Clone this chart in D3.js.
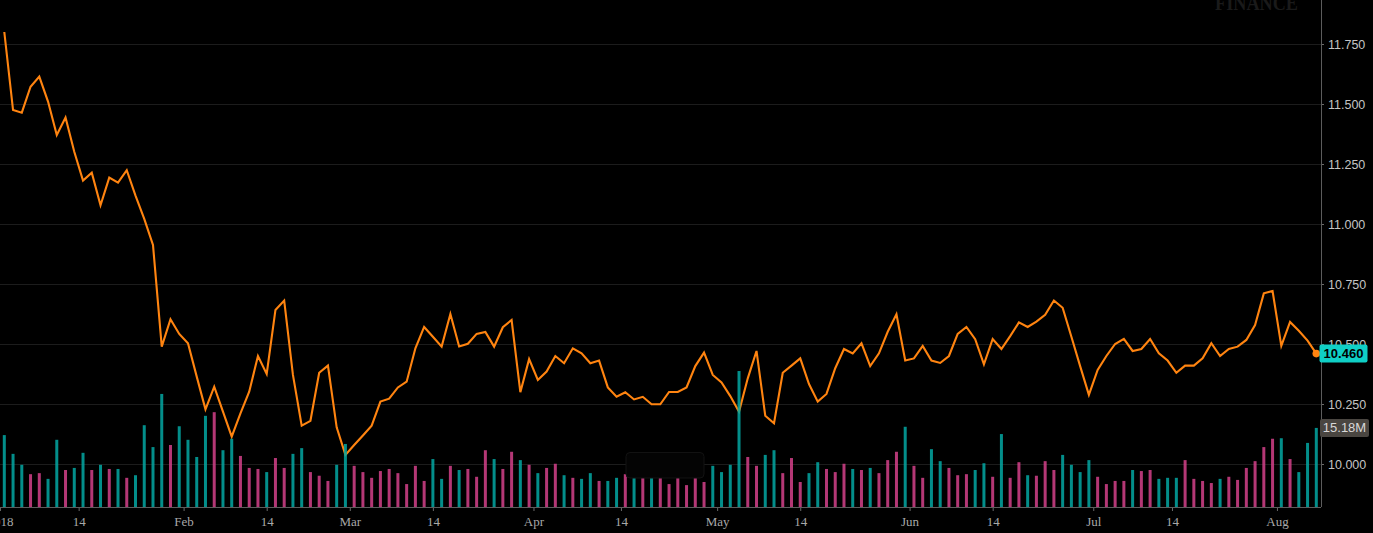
<!DOCTYPE html>
<html>
<head>
<meta charset="utf-8">
<script src="https://cdn.jsdelivr.net/npm/d3@7"></script>
<style>
  html, body { margin: 0; padding: 0; background: #000; overflow: hidden; }
  #chart svg { display: block; }
</style>
</head>
<body>
<div id="chart"></div>
<script>
// Daily closes, one per trading day (Jan 2 2018 .. Aug 7 2018)
const closes = [
  11.80, 11.475, 11.464, 11.572, 11.614, 11.51, 11.371, 11.444, 11.301, 11.181,
  11.214, 11.078, 11.193, 11.172, 11.224, 11.118, 11.021, 10.913, 10.489, 10.603,
  10.542, 10.503, 10.364, 10.228, 10.322, 10.218, 10.114, 10.211, 10.301, 10.45,
  10.375, 10.642, 10.681, 10.371, 10.16, 10.18, 10.38, 10.41, 10.153, 10.038,
  10.079, 10.119, 10.16, 10.26, 10.272, 10.319, 10.343, 10.482, 10.571, 10.53,
  10.489, 10.625, 10.49, 10.501, 10.542, 10.55, 10.489, 10.57, 10.60, 10.299,
  10.437, 10.35, 10.385, 10.45, 10.42, 10.482, 10.461, 10.42, 10.431, 10.319,
  10.28, 10.299, 10.269, 10.28, 10.249, 10.249, 10.30, 10.30, 10.319, 10.408,
  10.464, 10.371, 10.34, 10.283, 10.218, 10.357, 10.471, 10.201, 10.17, 10.38,
  10.41, 10.44, 10.333, 10.26, 10.292, 10.399, 10.479, 10.461, 10.503, 10.408,
  10.461, 10.551, 10.624, 10.431, 10.44, 10.492, 10.431, 10.421, 10.45, 10.542,
  10.571, 10.52, 10.415, 10.521, 10.479, 10.533, 10.59, 10.571, 10.593, 10.622,
  10.681, 10.651, 10.53, 10.408, 10.288, 10.392, 10.45, 10.50, 10.521, 10.471,
  10.479, 10.521, 10.461, 10.431, 10.38, 10.41, 10.41, 10.44, 10.503, 10.45,
  10.479, 10.489, 10.517, 10.579, 10.711, 10.721, 10.492, 10.592, 10.555, 10.514,
  10.46
];

// Volume in millions
const volumes = [
  13.8, 10.2, 8.1, 6.3, 6.5, 5.4, 12.9, 7.1, 7.5, 10.4,
  7.1, 8.1, 7.3, 7.3, 5.6, 6.1, 15.7, 11.5, 21.7, 11.9,
  15.5, 12.9, 9.6, 17.5, 18.2, 10.9, 13.1, 9.8, 7.5, 7.3,
  6.7, 9.4, 7.5, 10.2, 11.3, 6.7, 6.0, 5.0, 8.1, 12.1,
  7.9, 6.7, 5.6, 6.9, 7.3, 6.5, 4.4, 7.9, 5.0, 9.2,
  5.4, 7.9, 7.1, 7.3, 5.8, 10.9, 9.2, 7.3, 10.6, 9.0,
  8.1, 6.5, 7.5, 8.3, 6.1, 5.6, 5.4, 6.5, 5.0, 5.0,
  5.6, 6.3, 6.6, 6.0, 6.2, 6.4, 4.4, 5.9, 4.2, 6.0,
  4.8, 7.9, 6.7, 8.1, 26.1, 9.6, 7.9, 10.0, 10.9, 6.5,
  9.4, 4.8, 6.5, 8.6, 7.3, 6.7, 8.3, 7.3, 7.1, 7.5,
  6.5, 9.0, 10.6, 15.4, 7.9, 5.6, 11.1, 8.8, 7.5, 6.1,
  6.3, 7.1, 8.4, 5.8, 14.0, 5.6, 8.6, 6.1, 6.0, 8.8,
  7.1, 10.0, 8.1, 6.7, 9.0, 5.8, 4.4, 5.0, 5.0, 7.1,
  6.9, 7.1, 5.4, 5.6, 5.6, 9.0, 5.4, 5.0, 4.6, 5.4,
  5.8, 5.2, 7.5, 8.8, 11.5, 13.1, 13.2, 9.2, 6.7, 12.3,
  15.18
];

// 1 = up day (teal bar), 0 = down day (pink bar)
const upDays = [
  1,1,1,0,0,1,1,0,1,1, 0,1,0,1,0,1,1,1,1,0,
  1,1,1,1,0,1,1,0,0,0, 1,0,0,1,1,0,0,0,1,1,
  0,0,0,0,0,0,0,0,0,1, 1,0,1,0,0,0,1,0,0,1,
  0,1,0,0,1,0,1,1,0,1, 1,0,1,0,1,0,0,0,0,0,
  0,1,1,1,1,0,0,1,1,0, 0,0,1,1,0,0,0,1,0,1,
  0,0,0,1,0,0,1,1,0,0, 0,1,1,0,1,0,0,1,0,0,
  0,1,1,1,1,0,0,0,0,1, 0,0,1,1,1,0,0,0,0,1,
  0,0,0,0,0,0,1,0,1,1, 1
];

// x-axis ticks, in trading-day index units
const xTickIdx = [-0.5, 8.5, 20.5, 30, 39.5, 49, 60.5, 70.5, 81.5, 91, 103.5, 113, 124.5, 133.5, 145.5];
const xTickLabels = ["2018", "14", "Feb", "14", "Mar", "14", "Apr", "14", "May", "14", "Jun", "14", "Jul", "14", "Aug"];

// right axis ticks
const yTicks = [10.0, 10.25, 10.5, 10.75, 11.0, 11.25, 11.5, 11.75];

class PriceChart {
  constructor(_config) {
    this.config = {
      parentElement: _config.parentElement,
      containerWidth: _config.containerWidth,
      containerHeight: _config.containerHeight,
      axisX: 1321,
      baseY: 507,
    };
    this.data = closes.map((c, i) => ({ i: i, close: c, vol: volumes[i], up: upDays[i] === 1 }));
    this.initVis();
  }

  initVis() {
    let vis = this;

    vis.svg = d3.select(vis.config.parentElement)
      .append("svg")
      .attr("width", vis.config.containerWidth)
      .attr("height", vis.config.containerHeight)
      .style("background", "#000");

    // Scales
    vis.xScale = d3.scaleLinear().domain([0, closes.length - 1]).range([4.3, 1316.3]);
    vis.yScale = d3.scaleLinear().domain([10, 11.75]).range([464, 44]);
    vis.volScale = d3.scaleLinear().domain([0, 30]).range([vis.config.baseY, vis.config.baseY - 156.3]);

    // Watermark
    vis.svg.append("text")
      .attr("x", 1215)
      .attr("y", 10)
      .attr("textLength", 83)
      .attr("lengthAdjust", "spacingAndGlyphs")
      .style("font-family", "'Liberation Serif', serif")
      .style("font-weight", "bold")
      .style("font-size", "21px")
      .style("fill", "#1a1a1a")
      .text("FINANCE");

    // Gridlines
    vis.svg.append("g")
      .selectAll("line")
      .data(yTicks)
      .join("line")
      .attr("x1", 0)
      .attr("x2", vis.config.axisX)
      .attr("y1", d => Math.round(vis.yScale(d)) + 0.5)
      .attr("y2", d => Math.round(vis.yScale(d)) + 0.5)
      .attr("stroke", "#1c1c1c")
      .attr("stroke-width", 1);

    vis.lineGroup = vis.svg.append("g");
    vis.barGroup = vis.svg.append("g");
    vis.overlayGroup = vis.svg.append("g");

    // Axes
    vis.yAxis = d3.axisRight(vis.yScale)
      .tickValues(yTicks)
      .tickFormat(d3.format(".3f"))
      .tickSize(3)
      .tickPadding(4);

    vis.xAxis = d3.axisBottom(vis.xScale)
      .tickValues(xTickIdx)
      .tickFormat((d, i) => xTickLabels[i])
      .tickSize(4)
      .tickPadding(6);

    vis.yAxisGroup = vis.svg.append("g")
      .attr("transform", `translate(${vis.config.axisX},0)`);
    vis.xAxisGroup = vis.svg.append("g")
      .attr("transform", `translate(0,${vis.config.baseY})`);

    vis.labelGroup = vis.svg.append("g");

    vis.renderVis();
  }

  renderVis() {
    let vis = this;

    // Price line
    const line = d3.line()
      .x(d => vis.xScale(d.i))
      .y(d => vis.yScale(d.close));

    vis.lineGroup.append("path")
      .datum(vis.data)
      .attr("fill", "none")
      .attr("stroke", "#ff8410")
      .attr("stroke-width", 2.1)
      .attr("stroke-linejoin", "miter")
      .attr("d", line);

    // Volume bars
    vis.barGroup.selectAll("rect")
      .data(vis.data)
      .join("rect")
      .attr("x", d => vis.xScale(d.i) - 1.5)
      .attr("width", 3)
      .attr("y", d => vis.volScale(d.vol))
      .attr("height", d => vis.config.baseY - vis.volScale(d.vol))
      .attr("fill", d => d.up ? "#04a7a2" : "#d4418a")
      .attr("fill-opacity", 0.85);

    // dark hover box sitting over the bars, almost invisible
    vis.overlayGroup.append("rect")
      .attr("x", 626)
      .attr("y", 452.5)
      .attr("width", 78)
      .attr("height", 25.5)
      .attr("rx", 4)
      .attr("fill", "#040404")
      .attr("stroke", "#121212")
      .attr("stroke-width", 1);

    // Right axis
    vis.yAxisGroup.call(vis.yAxis);
    vis.yAxisGroup.select(".domain").remove();
    vis.yAxisGroup.selectAll(".tick line").attr("stroke", "#6a6a6a");
    vis.yAxisGroup.selectAll(".tick text")
      .attr("fill", "#c4c4c4")
      .style("font-family", "'Liberation Sans', Arial, sans-serif")
      .style("font-size", "12.5px");
    vis.yAxisGroup.append("line")
      .attr("x1", 0.5).attr("x2", 0.5)
      .attr("y1", 0).attr("y2", vis.config.baseY)
      .attr("stroke", "#5c5c5c");

    // Bottom axis
    vis.xAxisGroup.call(vis.xAxis);
    vis.xAxisGroup.select(".domain").remove();
    vis.xAxisGroup.selectAll(".tick line").attr("stroke", "#6a6a6a");
    vis.xAxisGroup.selectAll(".tick text")
      .attr("fill", "#a8a8a8")
      .style("font-family", "'Liberation Serif', 'Times New Roman', serif")
      .style("font-size", "13px");
    vis.xAxisGroup.append("line")
      .attr("x1", 0).attr("x2", vis.config.axisX)
      .attr("y1", 0.5).attr("y2", 0.5)
      .attr("stroke", "#5c5c5c");

    // Last price marker and label
    const last = vis.data[vis.data.length - 1];
    const lx = vis.xScale(last.i);
    const ly = vis.yScale(last.close);

    vis.labelGroup.append("circle")
      .attr("cx", lx)
      .attr("cy", ly)
      .attr("r", 3.8)
      .attr("fill", "#ff8410");

    vis.labelGroup.append("rect")
      .attr("x", 1319.5)
      .attr("y", ly - 9)
      .attr("width", 48)
      .attr("height", 18)
      .attr("rx", 2)
      .attr("fill", "#0fcfc6");

    vis.labelGroup.append("text")
      .attr("x", 1343.5)
      .attr("y", ly)
      .attr("dy", "0.35em")
      .attr("text-anchor", "middle")
      .style("font-family", "'Liberation Sans', Arial, sans-serif")
      .style("font-size", "13px")
      .style("font-weight", "bold")
      .attr("fill", "#000")
      .text(d3.format(".3f")(last.close));

    // Last volume label
    const vy = vis.volScale(last.vol);
    vis.labelGroup.append("rect")
      .attr("x", 1320)
      .attr("y", vy - 9)
      .attr("width", 49)
      .attr("height", 18)
      .attr("rx", 2)
      .attr("fill", "#4a4641");

    vis.labelGroup.append("text")
      .attr("x", 1344.5)
      .attr("y", vy)
      .attr("dy", "0.35em")
      .attr("text-anchor", "middle")
      .style("font-family", "'Liberation Sans', Arial, sans-serif")
      .style("font-size", "13px")
      .attr("fill", "#d8d8d8")
      .text(d3.format(".2f")(last.vol) + "M");
  }
}

new PriceChart({ parentElement: "#chart", containerWidth: 1373, containerHeight: 533 });
</script>
</body>
</html>
